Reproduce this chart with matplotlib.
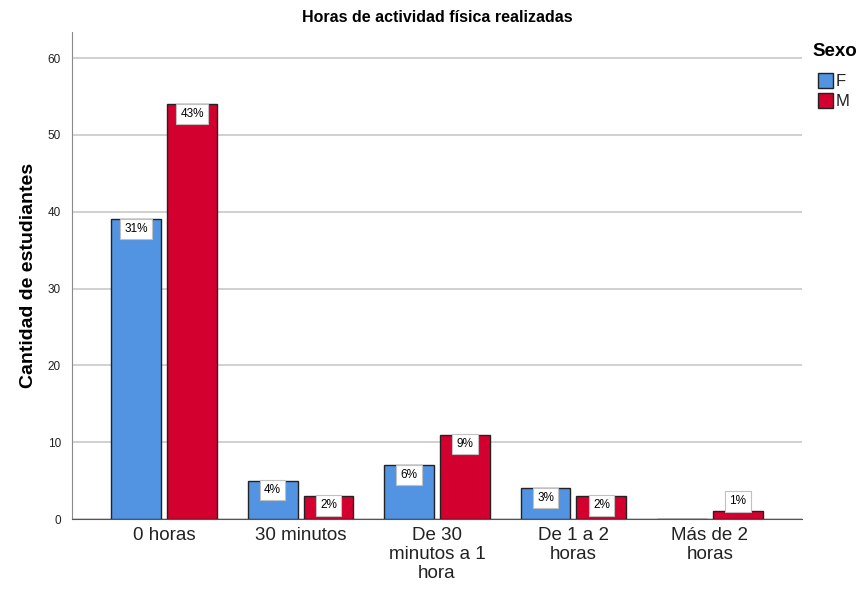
import matplotlib.pyplot as plt
from matplotlib.patches import Rectangle
import numpy as np

# Data
categorias = ['0 horas', '30 minutos', 'De 30\nminutos a 1\nhora', 'De 1 a 2\nhoras', 'Más de 2\nhoras']
f_vals = [39, 5, 7, 4, 0]
m_vals = [54, 3, 11, 3, 1]
f_pct = ['31%', '4%', '6%', '3%', '']
m_pct = ['43%', '2%', '9%', '2%', '1%']
series = ['F', 'M']

azul = '#5294E2'
rojo = '#D3002F'

plt.rcParams['font.family'] = ['Liberation Sans', 'DejaVu Sans']

W, H = 865, 589
fig = plt.figure(figsize=(W / 100, H / 100), dpi=100)
ax = fig.add_axes([72 / W, 1 - 519 / H, 730 / W, 487 / H])

x = np.arange(len(categorias))
w = 0.366
off = 0.205

bars_f = ax.bar(x - off, f_vals, width=w, color=azul, edgecolor='#222222', linewidth=1, zorder=3)
bars_m = ax.bar(x + off, m_vals, width=w, color=rojo, edgecolor='#222222', linewidth=1, zorder=3)

# percentage labels in white boxes
for bars, labels in [(bars_f, f_pct), (bars_m, m_pct)]:
    for b, lab in zip(bars, labels):
        if not lab:
            continue
        h = b.get_height()
        cx = b.get_x() + b.get_width() / 2
        if h >= 2:
            ax.text(cx, h - 0.45, lab, ha='center', va='top', fontsize=8.5, zorder=4,
                    bbox=dict(boxstyle='square,pad=0.35', fc='white', ec='#c0c0c0', lw=0.8))
        else:
            ax.text(cx, h + 0.5, lab, ha='center', va='bottom', fontsize=8.5, zorder=4,
                    bbox=dict(boxstyle='square,pad=0.35', fc='white', ec='#c0c0c0', lw=0.8))

ax.set_xlim(-0.675, 4.675)
ax.set_ylim(0, 63.4)
ax.set_yticks([0, 10, 20, 30, 40, 50, 60])
ax.set_xticks(x)
ax.set_xticklabels(categorias, fontsize=13.5, color='#222222', linespacing=1.15)
ax.tick_params(axis='y', length=0, pad=8, labelsize=8.5, labelcolor='#222222')
ax.tick_params(axis='x', length=0, pad=6)
ax.yaxis.grid(True, color='#c8c8c8', linewidth=1.2, zorder=0)
ax.set_axisbelow(True)

for s in ['top', 'right']:
    ax.spines[s].set_visible(False)
ax.spines['left'].set_color('#8a8a8a')
ax.spines['bottom'].set_color('#555555')

ax.set_ylabel('Cantidad de estudiantes', fontsize=14, fontweight='bold', labelpad=8)
fig.text(437 / W, 1 - 17 / H, 'Horas de actividad física realizadas', ha='center', va='center',
         fontsize=11.5, fontweight='bold')

# legend drawn by hand to match the SPSS layout
fig.text(812 / W, 1 - 52 / H, 'Sexo', ha='left', va='center', fontsize=13.5, fontweight='bold')
for i, (name, col) in enumerate(zip(series, [azul, rojo])):
    top = 73 + i * 20
    fig.add_artist(Rectangle((818 / W, 1 - (top + 15) / H), 15 / W, 15 / H,
                             transform=fig.transFigure, fc=col, ec='#222222', lw=1))
    fig.text(836 / W, 1 - (top + 8.5) / H, name, ha='left', va='center', fontsize=12, color='#222222')

fig.savefig('out.png', dpi=100)
